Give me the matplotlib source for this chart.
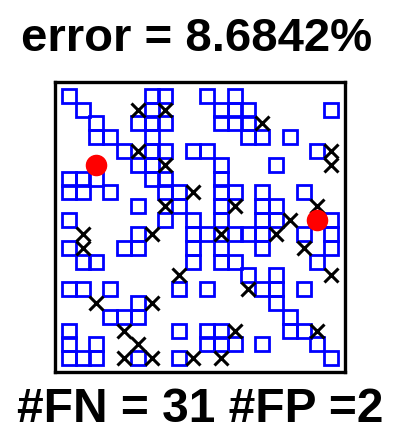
import matplotlib
matplotlib.use("Agg")
import matplotlib.pyplot as plt

plt.rcParams['font.family'] = ['Liberation Sans', 'DejaVu Sans']

# True-positive cells (blue squares): column, row (row 1 = top)
sq_col = [1, 7, 8, 11, 13,
          2, 7, 12, 13, 14, 20,
          3, 6, 7, 8, 12, 13, 14,
          3, 4, 7, 14, 15, 17,
          5, 7, 8, 10, 11, 19,
          6, 7, 12, 16,
          1, 2, 3, 7, 8, 12,
          1, 2, 4, 8, 9, 12, 13, 15, 18,
          6, 9, 12, 15, 16,
          1, 8, 10, 12, 15, 16, 20,
          6, 10, 11, 13, 14, 15, 18, 20,
          1, 5, 6, 10, 12, 15, 20,
          2, 3, 10, 12, 13, 19,
          14, 16,
          1, 2, 4, 9, 11, 15, 16, 18,
          6, 16,
          4, 5, 6, 17,
          1, 9, 11, 12, 17, 18,
          1, 3, 11, 12, 13, 15, 19,
          1, 2, 3, 6, 9, 20]
sq_row = [1, 1, 1, 1, 1,
          2, 2, 2, 2, 2, 2,
          3, 3, 3, 3, 3, 3, 3,
          4, 4, 4, 4, 4, 4,
          5, 5, 5, 5, 5, 5,
          6, 6, 6, 6,
          7, 7, 7, 7, 7, 7,
          8, 8, 8, 8, 8, 8, 8, 8, 8,
          9, 9, 9, 9, 9,
          10, 10, 10, 10, 10, 10, 10,
          11, 11, 11, 11, 11, 11, 11, 11,
          12, 12, 12, 12, 12, 12, 12,
          13, 13, 13, 13, 13, 13,
          14, 14,
          15, 15, 15, 15, 15, 15, 15, 15,
          16, 16,
          17, 17, 17, 17,
          18, 18, 18, 18, 18, 18,
          19, 19, 19, 19, 19, 19, 19,
          20, 20, 20, 20, 20, 20]

# False negatives (black crosses)
fn_col = [6, 8, 15, 6, 20, 8, 20, 10, 8, 13, 19, 17, 2, 7, 12, 16,
          2, 18, 9, 20, 14, 3, 7, 5, 13, 19, 6, 5, 7, 10, 12]
fn_row = [2, 2, 3, 5, 5, 6, 6, 8, 9, 9, 9, 10, 11, 11, 11, 11,
          12, 12, 14, 14, 15, 16, 16, 18, 18, 18, 19, 20, 20, 20, 20]

# False positives (red dots)
fp_col = [3, 19]
fp_row = [6, 10]

error_pct = 8.6842
n_fn = 31
n_fp = 2

fig = plt.figure(figsize=(3.95, 4.32), dpi=100)
ax = fig.add_axes([55/395, (432-372)/432, 290/395, 290/432])

ax.plot(sq_col, sq_row, linestyle='none', marker='s', markersize=10.2,
        markerfacecolor='none', markeredgecolor='#0000ff', markeredgewidth=2.0)
ax.plot(fn_col, fn_row, linestyle='none', marker='x', markersize=10.5,
        color='black', markeredgewidth=2.2)
ax.plot(fp_col, fp_row, linestyle='none', marker='o', markersize=14.5,
        markerfacecolor='red', markeredgecolor='red')

ax.set_xlim(0, 21)
ax.set_ylim(21, 0)
ax.set_xticks([])
ax.set_yticks([])
for s in ax.spines.values():
    s.set_linewidth(2.4)
    s.set_color('black')

fig.text(197/395, 1 - 39/432, f'error = {error_pct:.4f}%', ha='center', va='center',
         fontsize=34, fontweight='bold', color='black')
fig.text(200/395, 1 - 409/432, f'#FN = {n_fn} #FP ={n_fp}', ha='center', va='center',
         fontsize=34.5, fontweight='bold', color='black')

fig.savefig('out.png', dpi=100)
